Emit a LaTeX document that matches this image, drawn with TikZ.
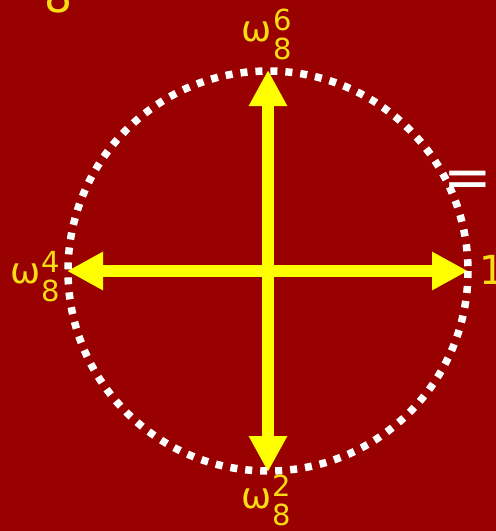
\documentclass[tikz,border=0pt]{standalone}
\usepackage{fontspec}
\setmainfont{DejaVu Sans}
\usetikzlibrary{arrows.meta}
\definecolor{bgred}{RGB}{153,0,0}
\definecolor{labyel}{RGB}{250,220,20}
\definecolor{arryel}{RGB}{255,255,0}
\tikzset{
  omega/.style={text=labyel,inner sep=0pt,font=\fontsize{36}{36}\selectfont},
  script/.style={text=labyel,inner sep=0pt,font=\fontsize{29}{29}\selectfont},
  vec/.style={draw=arryel,line width=12pt,-{Triangle[length=36pt,width=36pt]}},
  unitcircle/.style={draw=white,line width=7.5pt,dash pattern=on 7pt off 8pt}
}
\begin{document}
\begin{tikzpicture}[x=1pt,y=-1pt]
\useasboundingbox (0,0) rectangle (496,531);
\fill[bgred] (0,0) rectangle (496,531);
\coordinate (o) at (268,271);
\coordinate (r) at (468,271);
\coordinate (l) at (67,271);
\coordinate (t) at (268,70);
\coordinate (b) at (268,472);
\draw[vec] (o) -- (r);
\draw[vec] (o) -- (l);
\draw[vec] (o) -- (t);
\draw[vec] (o) -- (b);
\draw[unitcircle] (o) circle[radius=200];
% labels
\node[omega] (w6) at (257,32) {ω};
\node[script] (s6) at (283,20) {6};
\node[script] (d6) at (283,49) {8};
\node[omega] (w4) at (26,274) {ω};
\node[script] (s4) at (51,262) {4};
\node[script] (d4) at (51,291) {8};
\node[omega] (w2) at (257,499) {ω};
\node[script] (s2) at (282,486) {2};
\node[script] (d2) at (282,515) {8};
\node[text=labyel,inner sep=0pt,anchor=base west,font=\fontsize{40}{40}\selectfont] (one) at (479,284) {1};
\node[text=labyel,inner sep=0pt,anchor=base,font=\fontsize{44}{44}\selectfont] (eight) at (58,12) {8};
\node[text=white,inner sep=0pt,font=\fontsize{58}{58}\selectfont] (eq) at (467.5,184) {=};
\end{tikzpicture}
\end{document}
